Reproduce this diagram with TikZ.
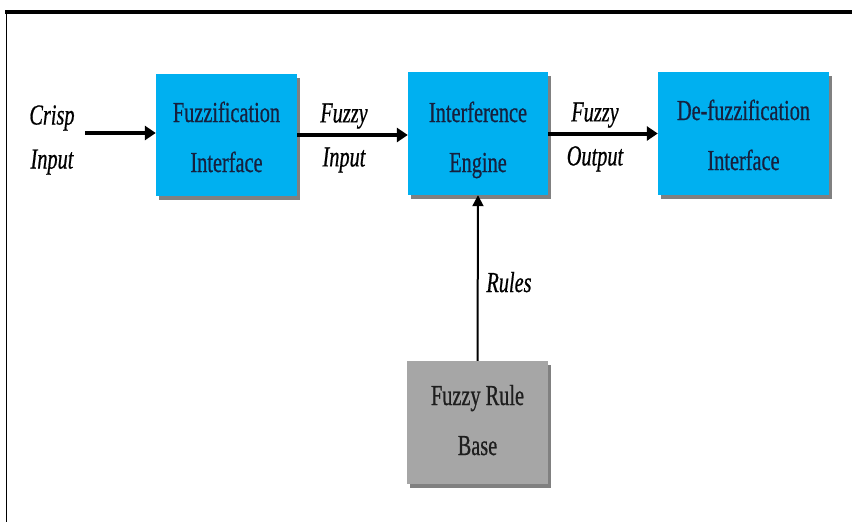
\documentclass[tikz,border=0pt]{standalone}
\usepackage{fontspec}
\newfontfamily\cfont[FakeStretch=0.7,FakeBold=0.6]{Liberation Serif}
\usetikzlibrary{arrows.meta,shadows}
\definecolor{boxblue}{RGB}{0,176,240}
\definecolor{boxgray}{RGB}{166,166,166}
\definecolor{shadowgray}{RGB}{128,128,128}
\definecolor{navytext}{RGB}{22,32,62}
\definecolor{darktext}{RGB}{30,30,30}
\newcommand{\bxt}[4]{\parbox[c][#2pt][t]{#1pt}{\centering\rule{0pt}{#3pt}#4}}
\begin{document}
\begin{tikzpicture}[x=1pt,y=-1pt,
  boxbase/.style={rectangle, inner sep=0pt, general shadow={fill=shadowgray, shadow xshift=3pt, shadow yshift=-4pt},
    font=\cfont\fontsize{29}{50}\selectfont},
  bluebox/.style={boxbase, fill=boxblue, text=navytext},
  graybox/.style={boxbase, fill=boxgray, text=darktext},
  lbl/.style={inner sep=0pt, align=center, font=\cfont\itshape\fontsize{29}{44}\selectfont, text=black},
  arrthick/.style={line width=4pt, -{Triangle[length=11pt,width=14pt]}},
  arrthin/.style={line width=2pt, -{Triangle[length=11pt,width=11pt]}}]
\fill[white] (0,0) rectangle (852,522);
\useasboundingbox (0,0) rectangle (852,522);
\draw[line width=4pt] (5,11.5) -- (852,11.5);
\draw[line width=1.5pt] (6.5,11) -- (6.5,522);

\node[bluebox] (fi) at (226.5,135) {\bxt{141}{122}{48}{Fuzzification\\Interface}};
\node[bluebox] (ie) at (478,133.5) {\bxt{140}{123}{50}{Interference\\Engine}};
\node[bluebox] (df) at (743.5,133.5) {\bxt{171}{123}{48}{De-fuzzification\\Interface}};
\node[graybox] (rb) at (477.5,422.5) {\bxt{141}{123}{44}{Fuzzy Rule\\Base}};

\node[lbl] (crisp) at (52,140) {Crisp\\Input};
\node[lbl] (fin) at (344,138) {Fuzzy\\Input};
\node[lbl] (fout) at (595,137) {Fuzzy\\Output};
\node[lbl, anchor=base] (rules) at (509,292) {Rules};

\coordinate (cin) at (85,133);
\draw[arrthick] (cin) -- (cin -| fi.west);
\draw[arrthick] (fi.east) -- (fi.east -| ie.west);
\draw[arrthick] (ie.east) -- (ie.east -| df.west);
\draw[arrthin] (rb.north) -- (ie.south);
\end{tikzpicture}
\end{document}
